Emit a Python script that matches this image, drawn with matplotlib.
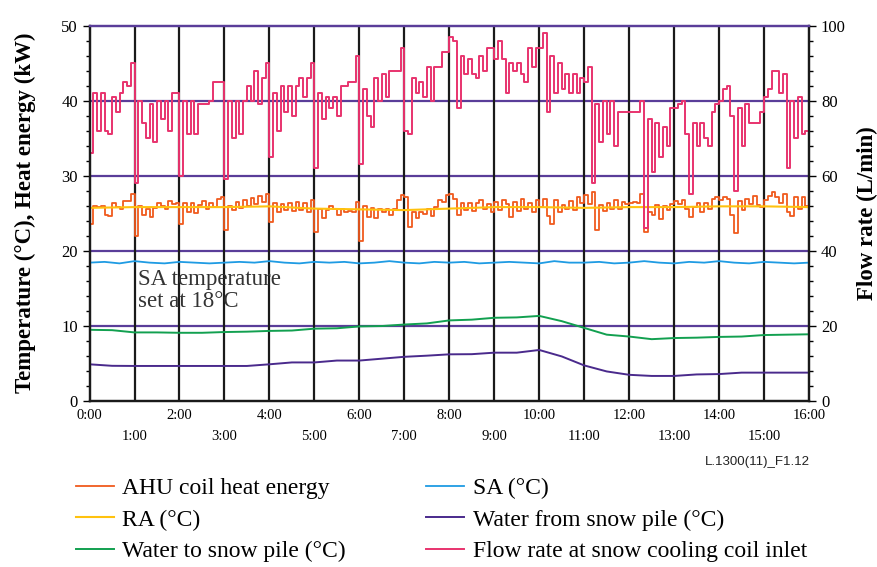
import numpy as np
import matplotlib
matplotlib.use('Agg')
import matplotlib.pyplot as plt

# hours on the x axis, 16 hour run
tick_labels = ['0:00', '1:00', '2:00', '3:00', '4:00', '5:00', '6:00', '7:00', '8:00',
               '9:00', '10:00', '11:00', '12:00', '13:00', '14:00', '15:00', '16:00']

# flow rate at snow cooling coil inlet (L/min), one value every 5 minutes
flow_rate = [66, 82, 72, 82, 72, 71, 81, 77, 82, 85, 84, 90,
             58, 80, 74, 70, 79, 69, 80, 75, 80, 72, 82, 82,
             60, 80, 71, 80, 71, 79, 79, 79, 80, 85, 85, 85,
             59, 80, 70, 80, 71, 80, 84, 80, 88, 79, 86, 90,
             65, 82, 72, 84, 77, 84, 76, 84, 86, 81, 86, 90,
             62, 82, 75, 81, 78, 81, 76, 84, 84, 85, 85, 92,
             63, 83, 76, 73, 86, 80, 87, 81, 88, 88, 88, 94,
             72, 71, 86, 82, 85, 81, 89, 80, 89, 89, 93, 93,
             97, 96, 78, 92, 87, 91, 87, 86, 92, 88, 94, 94,
             91, 96, 91, 82, 90, 88, 90, 87, 85, 94, 89, 94,
             94, 98, 77, 92, 82, 90, 83, 87, 82, 87, 82, 86,
             85, 89, 58, 79, 69, 80, 71, 80, 68, 77, 77, 77,
             77, 77, 77, 80, 46, 75, 61, 74, 65, 73, 68, 78,
             78, 79, 80, 71, 55, 74, 68, 74, 70, 68, 77, 79,
             80, 83, 84, 76, 56, 78, 68, 79, 74, 74, 74, 77,
             81, 83, 88, 88, 82, 87, 62, 80, 70, 81, 71, 72,
             72]

# AHU coil heat energy (kW), every 5 minutes
ahu_heat = [23.5, 26, 25.8, 25.9, 24.8, 24.6, 26.3, 25.8, 25.5, 26.6, 26.6, 27.5,
            22, 26, 24.8, 25.5, 24.5, 25.7, 26.4, 26, 25.6, 26.6, 26.2, 26.3,
            23.5, 26.3, 25.2, 26.4, 25, 26.1, 26.6, 25.5, 26.4, 25.8, 26.9, 27.2,
            22.8, 26, 25.4, 26.5, 25.7, 26.8, 25.9, 27, 26.2, 27.3, 26.5, 27.6,
            23.8, 26.3, 25.1, 26.2, 25.4, 26.4, 25.3, 26.5, 25.4, 26.3, 25.2, 26.8,
            22.5, 25.6, 24.4, 25.4, 25.9, 25.5, 24.8, 25.6, 25.2, 25.3, 25.1, 26.5,
            21.3, 26, 24.5, 25.7, 24.3, 25.5, 25.2, 25.5, 24.8, 25.5, 26.8, 27.4,
            27.2, 23.2, 25.1, 24.4, 25.2, 24.9, 25.6, 24.6, 25.8, 26.8, 26.5, 27.4,
            27.6, 26.9, 24.7, 26.3, 25.4, 26.4, 25.3, 26.3, 26.8, 25.6, 26.2, 25.2,
            26.5, 25.4, 26.8, 26.2, 24.5, 26.5, 25.3, 26.9, 25.5, 26.3, 25.1, 26.8,
            25.8, 26.9, 24.6, 23.5, 26.8, 25.2, 26.1, 25.6, 26.6, 25.4, 27.1, 26.3,
            27.4, 26.2, 27.8, 22.8, 26.1, 25.3, 26.4, 25.5, 26.7, 25.6, 26.5, 26.2,
            26.4, 26.5, 26.3, 27.5, 22.5, 25.2, 24.8, 26.1, 24.2, 25.9, 25.4, 26.2,
            26.6, 26.2, 26.8, 25.5, 24.5, 25.8, 26.3, 25.1, 26.4, 25.6, 26.9, 27.1,
            26.7, 27.2, 26.9, 24.7, 22.4, 26.6, 25.4, 26.9, 26.2, 27.3, 26.1, 25.8,
            26.8, 27.3, 27.8, 27.1, 26.4, 27.5, 25.1, 24.6, 27.2, 25.6, 27.1, 25.9,
            26.4]

# return air temperature, hourly
ra_temp = [25.7, 25.8, 25.8, 25.8, 25.9, 25.6, 25.5, 25.4, 25.6,
           25.8, 25.8, 25.7, 25.8, 25.8, 25.9, 25.9, 25.8]

# supply air temperature, every 20 minutes
sa_temp = [18.4, 18.5, 18.3, 18.6, 18.4, 18.3, 18.5, 18.4, 18.3, 18.4, 18.5, 18.4,
           18.6, 18.4, 18.3, 18.5, 18.4, 18.5, 18.3, 18.4, 18.6, 18.4, 18.3, 18.5,
           18.4, 18.5, 18.3, 18.4, 18.5, 18.4, 18.3, 18.6, 18.4, 18.4, 18.5, 18.3,
           18.4, 18.6, 18.4, 18.3, 18.5, 18.4, 18.6, 18.4, 18.3, 18.5, 18.4, 18.3,
           18.4]

# water temperatures, every 30 minutes
water_to = [9.45, 9.4, 9.1, 9.1, 9.05, 9.05, 9.15, 9.2, 9.3, 9.35, 9.6, 9.65,
            9.9, 9.95, 10.15, 10.3, 10.7, 10.8, 11.05, 11.1, 11.3, 10.6, 9.7, 8.8,
            8.55, 8.2, 8.35, 8.4, 8.5, 8.55, 8.75, 8.8, 8.85]
water_from = [4.85, 4.65, 4.63, 4.63, 4.63, 4.63, 4.63, 4.63, 4.85, 5.1, 5.1, 5.35,
              5.35, 5.6, 5.85, 6.0, 6.18, 6.2, 6.4, 6.4, 6.76, 5.9, 4.7, 3.9,
              3.45, 3.3, 3.3, 3.5, 3.55, 3.74, 3.74, 3.74, 3.74]

t5 = np.arange(len(flow_rate)) / 12
t20 = np.arange(len(sa_temp)) / 3
t30 = np.arange(len(water_to)) / 2
t60 = np.arange(len(ra_temp))

serif = 'Liberation Serif'
purple = '#5a3d99'

fig = plt.figure(figsize=(8.78, 5.67), dpi=100)
ax = fig.add_axes([0.102, 0.2933, 0.8195, 0.6617])

# grid: purple horizontal, black vertical
for v in range(10, 50, 10):
    ax.axhline(v, color=purple, lw=1.6, zorder=1)
for h in range(1, 16):
    ax.axvline(h, color='#1a1a1a', lw=1.6, zorder=1)

ahu_line, = ax.plot(t5, ahu_heat, color='#f05a1e', lw=1.3, drawstyle='steps-post', zorder=3)
ra_line, = ax.plot(t60, ra_temp, color='#ffc20e', lw=1.5, zorder=4)
sa_line, = ax.plot(t20, sa_temp, color='#1f9be3', lw=1.3, zorder=3)
to_line, = ax.plot(t30, water_to, color='#12a050', lw=1.4, zorder=3)
from_line, = ax.plot(t30, water_from, color='#4a2a8c', lw=1.4, zorder=3)

ax.set_xlim(0, 16)
ax.set_ylim(0, 50)
ax.set_xticks(range(17))
ax.set_xticklabels(tick_labels, family=serif, fontsize=10.5)
ax.tick_params(axis='x', length=0, pad=6)
for t in ax.xaxis.get_major_ticks()[1::2]:
    t.set_pad(21)
ax.set_yticks(range(0, 51, 10))
ax.set_yticks(range(0, 51, 2), minor=True)
ax.tick_params(axis='y', which='major', length=5, width=1, labelsize=12)
ax.tick_params(axis='y', which='minor', length=3, width=1)
for lab in ax.get_yticklabels():
    lab.set_family(serif)
ax.set_ylabel('Temperature (°C), Heat energy (kW)', family=serif, fontweight='bold',
              fontsize=16.5, labelpad=18)

ax2 = ax.twinx()
flow_line, = ax2.plot(t5, flow_rate, color='#e8336e', lw=1.4, drawstyle='steps-post', zorder=2)
ax2.set_ylim(0, 100)
ax2.set_yticks(range(0, 101, 20))
ax2.set_yticks(range(0, 101, 4), minor=True)
ax2.tick_params(axis='y', which='major', length=5, width=1, labelsize=12)
ax2.tick_params(axis='y', which='minor', length=3, width=1)
for lab in ax2.get_yticklabels():
    lab.set_family(serif)
ax2.set_ylabel('Flow rate (L/min)', family=serif, fontweight='bold', fontsize=16.5, labelpad=8)

for a in (ax, ax2):
    for s in a.spines.values():
        s.set_linewidth(1.6)
        s.set_color('#1a1a1a')
    a.spines['top'].set_color(purple)

ax.text(1.08, 17.5, 'SA temperature\nset at 18°C', family=serif, fontsize=16.5,
        va='top', ha='left', color='#333333', linespacing=1.05, zorder=5)

fig.text(0.922, 0.185, 'L.1300(11)_F1.12', family='Liberation Sans', fontsize=9.5,
         ha='right', va='center', color='#222222')

leg_font = {'family': serif, 'size': 17}
fig.legend([ahu_line, ra_line, to_line],
           ['AHU coil heat energy', 'RA (°C)', 'Water to snow pile (°C)'],
           loc='upper left', bbox_to_anchor=(0.076, 0.174), frameon=False, prop=leg_font,
           handlelength=1.6, handletextpad=0.35, labelspacing=0.42, borderaxespad=0)
fig.legend([sa_line, from_line, flow_line],
           ['SA (°C)', 'Water from snow pile (°C)', 'Flow rate at snow cooling coil inlet'],
           loc='upper left', bbox_to_anchor=(0.475, 0.174), frameon=False, prop=leg_font,
           handlelength=1.6, handletextpad=0.35, labelspacing=0.42, borderaxespad=0)

fig.savefig('out.png', dpi=100)
